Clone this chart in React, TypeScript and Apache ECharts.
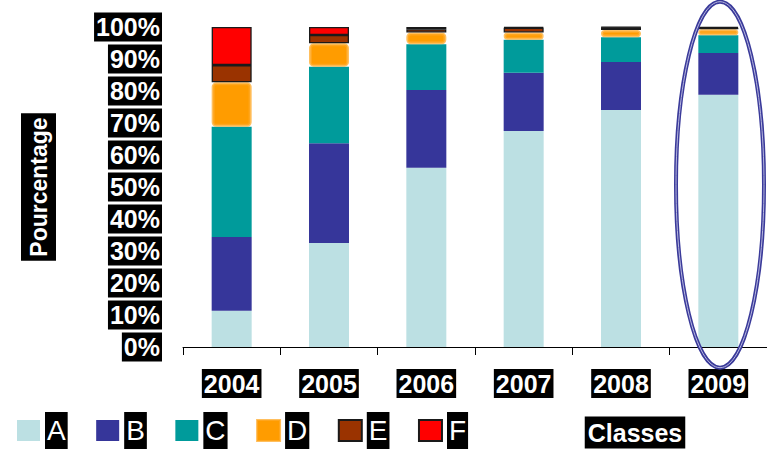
import React, { useEffect, useRef } from "react";
import * as echarts from "echarts";

const years = ["2004", "2005", "2006", "2007", "2008", "2009"];
const classA = [11.3, 32.5, 56.0, 67.5, 74.1, 78.8];
const classB = [23.1, 31.2, 24.3, 18.2, 15.0, 13.1];
const classC = [34.4, 23.9, 14.3, 10.3, 7.7, 5.5];
const classD = [13.9, 7.3, 3.7, 2.3, 2.3, 1.9];
const classE = [5.4, 2.6, 1.0, 1.5, 0.8, 0.5];
const classF = [11.9, 2.5, 0.7, 0.2, 0.1, 0.2];
const seriesNames = ["A", "B", "C", "D", "E", "F"];
const yMin = 0;
const yMax = 100;
const yStep = 10;

const FONT = "'Liberation Sans', Arial, Helvetica, sans-serif";

export default function App() {
  const ref = useRef<HTMLDivElement>(null);
  useEffect(() => {
    if (!ref.current) return;
    const chart = echarts.init(ref.current, null, { renderer: "svg" });
    const colors = ["#BCE0E3", "#36369A", "#009B9B", "#FF9C00", "#9A3300", "#FF0000"];
    const values = [classA, classB, classC, classD, classE, classF];
    const itemStyles: any[] = [
      { color: colors[0] },
      { color: colors[1] },
      { color: colors[2] },
      { color: colors[3], borderColor: "rgba(255,170,40,0.75)", borderWidth: 3, borderRadius: 3 },
      { color: colors[4], borderColor: "#1a1a1a", borderWidth: 1.3 },
      { color: colors[5], borderColor: "#1a1a1a", borderWidth: 1.3 },
    ];
    const boxLabel = {
      color: "#fff",
      backgroundColor: "#000",
      fontFamily: FONT,
      fontWeight: "bold" as const,
      fontSize: 25,
      lineHeight: 27,
      padding: [1, 2],
    };
    chart.setOption({
      animation: false,
      backgroundColor: "#fff",
      grid: { left: 183, top: 27, width: 592, height: 320, containLabel: false },
      legend: {
        data: seriesNames,
        left: 17,
        top: 412,
        padding: 0,
        icon: "rect",
        itemWidth: 23,
        itemHeight: 21,
        itemGap: 28.5,
        textStyle: {
          color: "#fff",
          backgroundColor: "#000",
          fontFamily: FONT,
          fontSize: 28,
          lineHeight: 33,
          padding: [2, 2],
        },
      },
      xAxis: {
        type: "category",
        data: years,
        axisLine: { show: true, lineStyle: { color: "#000", width: 1 } },
        axisTick: { show: true, length: 8, lineStyle: { color: "#000" } },
        axisLabel: { ...boxLabel, margin: 22 },
        splitLine: { show: false },
      },
      yAxis: {
        type: "value",
        min: yMin,
        max: yMax,
        interval: yStep,
        name: "Pourcentage",
        nameLocation: "middle",
        nameRotate: 90,
        nameGap: 127,
        nameTextStyle: {
          color: "#fff",
          backgroundColor: "#000",
          fontFamily: FONT,
          fontWeight: "bold",
          fontSize: 23,
          lineHeight: 27,
          padding: [4, 4],
        },
        axisLine: { show: false },
        axisTick: { show: false },
        splitLine: { show: false },
        axisLabel: { ...boxLabel, margin: 21, formatter: "{value}%" },
      },
      series: seriesNames.map((n, i) => ({
        name: n,
        type: "bar",
        stack: "total",
        barWidth: 40,
        data: values[i],
        itemStyle: itemStyles[i],
        emphasis: { disabled: true },
      })),
      graphic: [
        {
          type: "ellipse",
          z: 100,
          shape: { cx: 720, cy: 184.7, rx: 44, ry: 183 },
          style: { fill: "none", stroke: "#3a3a9a", lineWidth: 4 },
        },
        {
          type: "ellipse",
          z: 101,
          shape: { cx: 720, cy: 184.7, rx: 44, ry: 183 },
          style: { fill: "none", stroke: "#b8b8e0", lineWidth: 1 },
        },
        {
          type: "text",
          z: 100,
          x: 635,
          y: 432.5,
          style: {
            text: "Classes",
            fill: "#fff",
            backgroundColor: "#000",
            fontFamily: FONT,
            fontWeight: "bold",
            fontSize: 25,
            lineHeight: 28,
            padding: [2, 3],
            align: "center",
            verticalAlign: "middle",
          },
        },
      ],
    });
    return () => chart.dispose();
  }, []);
  return (
    <div
      ref={ref}
      style={{ position: "fixed", left: 0, top: 0, width: 767, height: 451, background: "#fff" }}
    />
  );
}
